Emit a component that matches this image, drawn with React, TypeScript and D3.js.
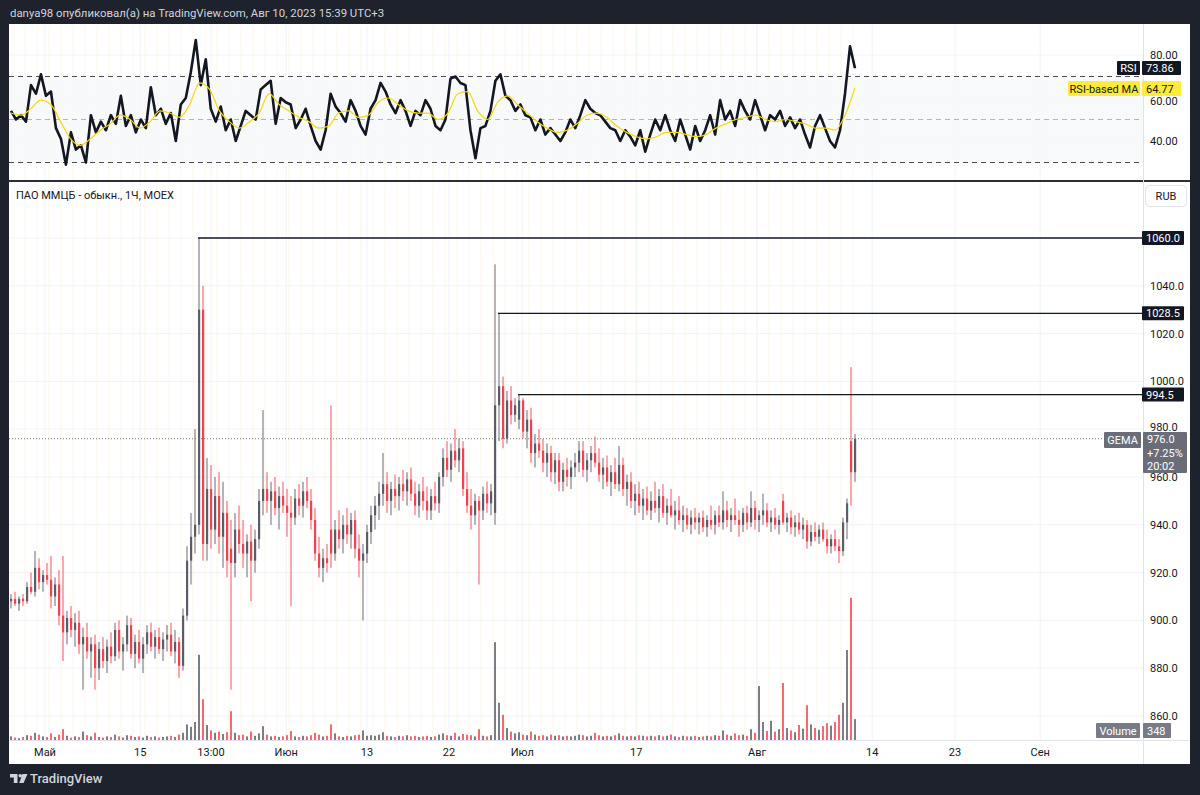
import { useEffect, useRef } from 'react';
import * as d3 from 'd3';

const W = 1200;
const H = 795;

// hourly-ish candles [open, high, low, close]
const candles = [
  [908, 911, 905, 909], [909, 912, 906, 907], [907, 910, 904, 909], [909, 911, 906, 908], [908, 916, 907, 914],
  [914, 920, 911, 912], [912, 929, 910, 922], [922, 926, 913, 916], [916, 921, 912, 919], [919, 924, 915, 917],
  [917, 927, 905, 910], [910, 918, 906, 915], [915, 921, 898, 902], [902, 927, 883, 895], [895, 904, 890, 901],
  [901, 906, 893, 896], [896, 903, 889, 899], [899, 904, 886, 890], [890, 897, 871, 893], [893, 899, 884, 887],
  [887, 893, 876, 890], [890, 894, 871, 880], [880, 891, 875, 888], [888, 893, 880, 883], [883, 892, 878, 889],
  [889, 895, 882, 885], [885, 899, 883, 896], [896, 900, 884, 887], [887, 893, 879, 890], [890, 902, 887, 898],
  [898, 901, 884, 886], [886, 894, 880, 891], [891, 896, 882, 884], [884, 893, 878, 890], [890, 898, 886, 895],
  [895, 899, 887, 889], [889, 896, 884, 893], [893, 897, 886, 888], [888, 895, 883, 892], [892, 898, 887, 894],
  [894, 899, 885, 887], [887, 896, 882, 891], [891, 893, 876, 881], [881, 905, 879, 902], [902, 931, 900, 925],
  [925, 945, 915, 935], [935, 980, 928, 940], [940, 1060, 936, 1030], [1030, 1040, 925, 932], [932, 968, 925, 955],
  [955, 965, 930, 938], [938, 960, 932, 952], [952, 962, 928, 935], [935, 958, 922, 945], [945, 950, 918, 925],
  [930, 942, 871, 924], [924, 945, 918, 938], [938, 948, 928, 932], [932, 942, 922, 928], [928, 936, 918, 933],
  [933, 940, 908, 925], [925, 938, 920, 934], [934, 955, 930, 950], [950, 988, 944, 955], [955, 962, 945, 950],
  [950, 958, 940, 954], [954, 960, 944, 947], [947, 956, 938, 952], [952, 958, 945, 948], [948, 955, 935, 945],
  [945, 952, 906, 943], [943, 955, 940, 951], [951, 957, 944, 948], [948, 958, 943, 954], [954, 960, 947, 950],
  [950, 955, 938, 942], [942, 947, 925, 928], [928, 935, 918, 922], [922, 930, 916, 926], [926, 932, 920, 924],
  [938, 990, 922, 928], [928, 942, 925, 938], [938, 946, 930, 934], [934, 944, 928, 940], [940, 947, 932, 936],
  [936, 945, 930, 942], [942, 946, 926, 930], [930, 936, 918, 925], [925, 932, 900, 928], [928, 940, 924, 937],
  [937, 948, 932, 944], [944, 952, 938, 948], [948, 958, 942, 953], [953, 970, 948, 957], [957, 962, 945, 950],
  [950, 958, 944, 955], [955, 961, 947, 952], [952, 960, 946, 957], [957, 963, 950, 954], [954, 962, 948, 959],
  [959, 964, 950, 953], [953, 958, 944, 948], [948, 957, 943, 954], [954, 960, 946, 950], [950, 956, 942, 946],
  [946, 955, 942, 952], [952, 958, 946, 949], [949, 962, 945, 960], [960, 972, 956, 968], [968, 975, 960, 963],
  [963, 974, 958, 971], [971, 980, 964, 967], [967, 976, 962, 972], [972, 975, 952, 955], [955, 962, 945, 948],
  [948, 955, 938, 944], [944, 953, 940, 950], [950, 952, 915, 946], [946, 956, 942, 953], [953, 958, 945, 949],
  [949, 957, 944, 954], [945, 1049, 940, 990], [990, 1028.5, 975, 998], [998, 1002, 972, 976], [976, 996, 974, 992],
  [992, 998, 982, 986], [986, 993, 983, 990], [984, 994.5, 980, 992], [992, 993, 976, 979], [979, 988, 972, 984],
  [984, 989, 966, 970], [970, 978, 964, 974], [974, 980, 968, 971], [971, 976, 962, 966], [966, 974, 960, 970],
  [970, 973, 958, 962], [962, 970, 957, 967], [967, 970, 954, 958], [958, 966, 954, 963], [963, 968, 956, 960],
  [960, 967, 955, 964], [964, 970, 960, 966], [966, 975, 962, 971], [971, 975, 960, 963], [963, 970, 958, 967],
  [967, 973, 962, 970], [970, 977, 964, 966], [966, 972, 958, 961], [961, 968, 955, 964], [964, 969, 956, 958],
  [958, 965, 952, 962], [962, 968, 955, 957], [957, 973, 954, 965], [965, 968, 952, 955], [955, 961, 948, 958],
  [958, 962, 947, 950], [950, 957, 944, 953], [953, 958, 945, 948], [948, 955, 942, 951], [951, 956, 944, 946],
  [946, 954, 942, 950], [950, 958, 945, 947], [947, 955, 941, 952], [952, 957, 943, 945], [945, 951, 940, 948],
  [948, 955, 943, 944], [944, 950, 938, 946], [946, 952, 940, 942], [942, 948, 937, 944], [944, 947, 938, 940],
  [940, 946, 936, 943], [943, 947, 938, 941], [941, 945, 936, 943], [943, 946, 937, 939], [939, 944, 935, 942],
  [942, 948, 938, 940], [940, 946, 936, 944], [944, 948, 939, 941], [941, 954, 938, 946], [946, 950, 939, 942],
  [942, 947, 937, 944], [944, 951, 940, 942], [942, 946, 935, 940], [940, 947, 937, 945], [945, 948, 938, 941],
  [941, 954, 939, 947], [947, 950, 938, 942], [942, 946, 937, 944], [944, 953, 940, 946], [946, 949, 939, 941],
  [941, 946, 937, 943], [943, 947, 938, 940], [940, 944, 936, 942], [950, 953, 940, 941], [941, 945, 937, 943],
  [943, 946, 936, 939], [939, 944, 935, 941], [941, 945, 936, 938], [938, 943, 934, 940], [940, 942, 930, 933],
  [933, 940, 931, 937], [937, 941, 933, 935], [935, 940, 932, 938], [938, 941, 933, 934], [934, 938, 928, 931],
  [931, 936, 928, 934], [934, 938, 929, 931], [931, 934, 924, 929], [929, 943, 927, 941], [941, 951, 934, 949],
  [975, 1006, 948, 962], [962, 978, 958, 976],
];

const volumes = [
  60, 40, 30, 50, 80, 70, 120, 90, 60, 50,
  110, 50, 90, 180, 70, 40, 60, 50, 140, 80,
  60, 120, 50, 40, 60, 50, 90, 60, 40, 80,
  70, 50, 60, 40, 70, 50, 60, 40, 50, 60,
  70, 50, 90, 120, 260, 220, 300, 1420, 680, 250,
  160, 120, 140, 100, 130, 480, 120, 80, 90, 60,
  140, 70, 110, 230, 90, 60, 70, 50, 60, 80,
  150, 60, 50, 70, 60, 80, 120, 90, 60, 70,
  260, 110, 60, 50, 70, 60, 80, 90, 160, 70,
  80, 70, 90, 130, 70, 60, 50, 70, 60, 80,
  60, 70, 50, 60, 70, 50, 60, 90, 110, 80,
  70, 120, 60, 100, 90, 80, 60, 180, 70, 60,
  80, 1630, 620, 420, 200, 140, 110, 130, 90, 80,
  140, 90, 70, 80, 60, 90, 70, 80, 60, 70,
  60, 70, 90, 80, 60, 70, 120, 80, 60, 70,
  60, 80, 110, 70, 60, 70, 60, 80, 70, 60,
  70, 60, 80, 60, 70, 90, 60, 50, 70, 60,
  60, 70, 50, 60, 70, 60, 80, 70, 160, 90,
  70, 110, 80, 90, 70, 180, 120, 900, 300, 150,
  320, 140, 180, 950, 200, 160, 130, 250, 190, 580,
  260, 200, 170, 230, 280, 240, 300, 420, 620, 1500,
  2370, 348,
];

const rsiValues = [
  54, 50, 52, 49, 66, 62, 71, 61, 63, 46,
  41, 29, 44, 36, 38, 30, 52, 44, 49, 45,
  52, 48, 61, 47, 52, 44, 50, 46, 65, 52,
  55, 48, 53, 40, 57, 60, 72, 87, 66, 78,
  55, 49, 56, 45, 50, 40, 47, 54, 52, 50,
  64, 66, 68, 48, 60, 58, 57, 46, 50, 55,
  47, 40, 36, 45, 62, 56, 53, 49, 59, 54,
  47, 43, 55, 59, 67, 63, 57, 53, 59, 54,
  47, 54, 52, 59, 55, 47, 45, 50, 69, 70,
  67, 66, 45, 32, 46, 47, 54, 68, 71, 61,
  59, 54, 57, 52, 51, 45, 50, 43, 46, 43,
  40, 44, 50, 46, 52, 59, 55, 53, 52, 49,
  46, 45, 40, 45, 42, 38, 45, 35, 43, 50,
  45, 52, 45, 40, 50, 43, 36, 47, 40, 45,
  52, 43, 59, 50, 54, 47, 59, 54, 50, 59,
  52, 45, 52, 50, 54, 47, 51, 46, 50, 43,
  37, 47, 52, 46, 40, 37, 45, 62, 84, 73.86,
];

const rsiMaValues = [
  53, 52, 55, 59, 57, 49, 41, 38, 41, 45,
  48, 52, 50, 46, 49, 54, 53, 51, 57, 67,
  64, 54, 49, 46, 49, 53, 62, 57, 54, 51,
  49, 46, 47, 53, 54, 51, 52, 58, 60, 57,
  54, 53, 53, 50, 53, 62, 63, 54, 50, 58,
  61, 57, 53, 49, 46, 44, 45, 48, 52, 53,
  51, 47, 44, 42, 41, 42, 44, 44, 43, 42,
  43, 46, 48, 50, 51, 52, 50, 49, 50, 49,
  48, 46, 46, 45, 52, 64.77,
];

const priceTicks = [860, 880, 900, 920, 940, 960, 980, 1000, 1020, 1040, 1060];
const rsiTicks = [40, 60, 80];
const timeTicks = [
  { i: 8.5, label: 'Май' }, { i: 32.3, label: '15' }, { i: 50, label: '13:00' },
  { i: 68.8, label: 'Июн' }, { i: 89, label: '13' }, { i: 109.5, label: '22' },
  { i: 127.8, label: 'Июл' }, { i: 156.3, label: '17' }, { i: 186.5, label: 'Авг' },
  { i: 215.3, label: '14' }, { i: 236, label: '23' }, { i: 257.3, label: 'Сен' },
];
const levelLines = [
  { price: 1060, from: 47, label: '1060.0' },
  { price: 1028.5, from: 122, label: '1028.5' },
  { price: 994.5, from: 127, label: '994.5' },
];
const lastPrice = 976.0;
const lastChange = '+7.25%';
const countdown = '20:02';
const lastVolume = 348;

const FONT = 'Roboto, "Noto Sans", sans-serif';
const UP = '#50535e';
const DOWN = '#f23645';

const App = () => {
  const svgRef = useRef(null);

  useEffect(() => {
    const svg = d3.select(svgRef.current);
    svg.selectAll('*').remove();

    const left = 9, right = 1143, outerRight = 1190;
    const rsiTop = 25, rsiBottom = 180, priceTop = 183, priceBottom = 740, axisBottom = 764;

    const x = d3.scaleLinear().domain([0, candles.length - 1]).range([11, 855]);
    const yP = d3.scaleLinear().domain([860, 1060]).range([716, 238]);
    const yR = d3.scaleLinear().domain([40, 80]).range([141, 55]);
    const yV = d3.scaleLinear().domain([0, 2500]).range([priceBottom, 590]);
    const xR = d3.scaleLinear().domain([0, rsiValues.length - 1]).range(x.range());
    const xM = d3.scaleLinear().domain([0, rsiMaValues.length - 1]).range(x.range());

    // frame
    svg.append('rect').attr('width', W).attr('height', H).attr('fill', '#1e222d');
    svg.append('text').attr('x', 10).attr('y', 17).attr('fill', '#d1d4dc')
      .style('font', `11.4px ${FONT}`)
      .text('danya98 опубликовал(а) на TradingView.com, Авг 10, 2023 15:39 UTC+3');
    svg.append('rect').attr('x', left).attr('y', 24).attr('width', outerRight - left)
      .attr('height', axisBottom - 24).attr('fill', '#ffffff');

    const defs = svg.append('defs');
    defs.append('clipPath').attr('id', 'rsiClip').append('rect')
      .attr('x', left).attr('y', rsiTop).attr('width', right - left).attr('height', rsiBottom - rsiTop);
    defs.append('clipPath').attr('id', 'priceClip').append('rect')
      .attr('x', left).attr('y', priceTop).attr('width', right - left).attr('height', priceBottom - priceTop);

    // session stripes
    const stripes = svg.append('g');
    d3.range(1, candles.length, 3).forEach(i => {
      stripes.append('line')
        .attr('x1', x(i) - 2).attr('x2', x(i) - 2)
        .attr('y1', rsiTop).attr('y2', priceBottom)
        .attr('stroke', '#fff6ec').attr('stroke-width', 1.2);
    });
    stripes.append('rect').attr('x', left).attr('y', rsiBottom).attr('width', outerRight - left)
      .attr('height', 3).attr('fill', '#ffffff');

    // grid
    const grid = svg.append('g').attr('stroke', '#f0f3fa').attr('stroke-width', 1);
    timeTicks.forEach(t => {
      grid.append('line').attr('x1', x(t.i)).attr('x2', x(t.i)).attr('y1', rsiTop).attr('y2', priceBottom);
    });
    priceTicks.forEach(p => {
      grid.append('line').attr('x1', left).attr('x2', right).attr('y1', yP(p)).attr('y2', yP(p));
    });
    rsiTicks.forEach(v => {
      grid.append('line').attr('x1', left).attr('x2', right).attr('y1', yR(v)).attr('y2', yR(v));
    });

    // RSI pane
    const rsiG = svg.append('g').attr('clip-path', 'url(#rsiClip)');
    rsiG.append('rect').attr('x', left).attr('width', right - left)
      .attr('y', yR(70)).attr('height', yR(30) - yR(70)).attr('fill', '#f6f7f9').attr('opacity', 0.8);
    [70, 30].forEach(v => {
      rsiG.append('line').attr('x1', left).attr('x2', right).attr('y1', yR(v)).attr('y2', yR(v))
        .attr('stroke', '#4a4d57').attr('stroke-dasharray', '5,4').attr('stroke-width', 1);
    });
    rsiG.append('line').attr('x1', left).attr('x2', right).attr('y1', yR(50)).attr('y2', yR(50))
      .attr('stroke', '#b2b5be').attr('stroke-dasharray', '5,4').attr('stroke-width', 1);

    const rsiLine = d3.line<number>().x((d, i) => xR(i)).y(d => yR(d));
    const maLine = d3.line<number>().x((d, i) => xM(i)).y(d => yR(d)).curve(d3.curveMonotoneX);
    rsiG.append('path').datum(rsiValues).attr('d', rsiLine)
      .attr('fill', 'none').attr('stroke', '#131722').attr('stroke-width', 2.6).attr('stroke-linejoin', 'round');
    rsiG.append('path').datum(rsiMaValues).attr('d', maLine)
      .attr('fill', 'none').attr('stroke', '#f5d90a').attr('stroke-width', 1.2);

    // separator between panes
    svg.append('rect').attr('x', left).attr('y', rsiBottom).attr('width', outerRight - left)
      .attr('height', 2).attr('fill', '#2a2e39');

    // price pane
    const priceG = svg.append('g').attr('clip-path', 'url(#priceClip)');

    priceG.append('g').selectAll('rect').data(volumes).enter().append('rect')
      .attr('x', (d, i) => x(i) - 1)
      .attr('width', 2)
      .attr('y', d => yV(d))
      .attr('height', d => priceBottom - yV(d))
      .attr('fill', (d, i) => (candles[i][3] >= candles[i][0] ? UP : DOWN))
      .attr('opacity', 0.75);

    const candleG = priceG.append('g');
    candles.forEach((c, i) => {
      const [o, h, l, cl] = c;
      const col = cl >= o ? UP : DOWN;
      candleG.append('line')
        .attr('x1', x(i)).attr('x2', x(i)).attr('y1', yP(h)).attr('y2', yP(l))
        .attr('stroke', col).attr('stroke-width', 1).attr('opacity', 0.85);
      const top = yP(Math.max(o, cl));
      const bh = Math.max(1, Math.abs(yP(o) - yP(cl)));
      candleG.append('rect')
        .attr('x', x(i) - 1).attr('width', 2.2).attr('y', top).attr('height', bh)
        .attr('fill', col).attr('opacity', 0.9);
    });

    levelLines.forEach(lv => {
      priceG.append('line')
        .attr('x1', x(lv.from) - 1).attr('x2', right)
        .attr('y1', yP(lv.price)).attr('y2', yP(lv.price))
        .attr('stroke', '#131722').attr('stroke-width', 1.3);
    });

    priceG.append('line').attr('x1', left).attr('x2', 1104)
      .attr('y1', yP(lastPrice)).attr('y2', yP(lastPrice))
      .attr('stroke', '#787b86').attr('stroke-dasharray', '1,2');

    svg.append('text').attr('x', 16).attr('y', 199).attr('fill', '#131722')
      .style('font', `11px ${FONT}`).text('ПАО ММЦБ - обыкн., 1Ч, MOEX');

    // axes borders
    svg.append('line').attr('x1', right + 0.5).attr('x2', right + 0.5).attr('y1', 24).attr('y2', axisBottom)
      .attr('stroke', '#e0e3eb');
    svg.append('line').attr('x1', left).attr('x2', outerRight).attr('y1', priceBottom + 0.5).attr('y2', priceBottom + 0.5)
      .attr('stroke', '#e0e3eb');

    // time axis
    const timeG = svg.append('g').style('font', `11px ${FONT}`).attr('fill', '#131722');
    timeTicks.forEach(t => {
      timeG.append('text').attr('x', x(t.i)).attr('y', 756).attr('text-anchor', 'middle').text(t.label);
    });

    // price axis (labels hidden where a level marker sits, nudged clear of the last-price box)
    const axisG = svg.append('g').style('font', `11px ${FONT}`).attr('fill', '#131722');
    priceTicks
      .filter(p => !levelLines.some(lv => Math.abs(yP(lv.price) - yP(p)) < 8))
      .forEach(p => {
        const nearLast = Math.abs(yP(p) - yP(lastPrice)) < 12;
        axisG.append('text').attr('x', 1150).attr('y', yP(p) + (nearLast ? 1.5 : 4)).text(d3.format('.1f')(p));
      });
    rsiTicks.forEach(v => {
      const nearMa = Math.abs(yR(v) - 88) < 12;
      axisG.append('text').attr('x', 1150).attr('y', yR(v) + (nearMa ? 6.5 : 4)).text(d3.format('.2f')(v));
    });

    const box = (bx, by, bw, bh, fill, label, color, anchor = 'start', tx = bx + 4) => {
      svg.append('rect').attr('x', bx).attr('y', by).attr('width', bw).attr('height', bh)
        .attr('fill', fill).attr('rx', 1);
      svg.append('text').attr('x', tx).attr('y', by + bh / 2 + 4).attr('text-anchor', anchor)
        .attr('fill', color).style('font', `11px ${FONT}`).text(label);
    };

    levelLines.forEach(lv => {
      box(1142, yP(lv.price) - 7, 42, 14, '#131722', lv.label, '#ffffff', 'start', 1146);
    });

    // RSI labels
    box(1117, 61, 23, 14, '#131722', 'RSI', '#ffffff', 'middle', 1128.5);
    box(1142, 61, 39, 14, '#131722', d3.format('.2f')(rsiValues[rsiValues.length - 1]), '#ffffff', 'start', 1146);
    box(1068, 81, 72, 15, '#ffeb3b', 'RSI-based MA', '#131722', 'middle', 1104);
    box(1142, 81, 39, 15, '#ffeb3b', d3.format('.2f')(rsiMaValues[rsiMaValues.length - 1]), '#131722', 'start', 1146);

    // last price
    box(1104, 432, 37, 16, '#6a6d78', 'GEMA', '#ffffff', 'middle', 1122.5);
    svg.append('rect').attr('x', 1143).attr('y', 432).attr('width', 44).attr('height', 41)
      .attr('fill', '#6a6d78').attr('rx', 1);
    [d3.format('.1f')(lastPrice), lastChange, countdown].forEach((t, k) => {
      svg.append('text').attr('x', 1147).attr('y', 443 + k * 13.5).attr('fill', '#ffffff')
        .style('font', `11px ${FONT}`).text(t);
    });

    // volume label
    box(1096, 723, 44, 15, '#787b86', 'Volume', '#ffffff', 'middle', 1118);
    box(1143, 723, 28, 15, '#787b86', String(lastVolume), '#ffffff', 'start', 1147);

    // RUB button
    svg.append('rect').attr('x', 1145.5).attr('y', 185.5).attr('width', 41).attr('height', 21)
      .attr('fill', '#ffffff').attr('stroke', '#e0e3eb').attr('rx', 4);
    svg.append('text').attr('x', 1166).attr('y', 200).attr('text-anchor', 'middle')
      .attr('fill', '#131722').style('font', `11px ${FONT}`).text('RUB');

    // footer logo
    const logo = svg.append('g').attr('fill', '#d1d4dc');
    logo.append('path').attr('d', 'M10,774 H17.5 V783 H13.8 V777.4 H10 Z');
    logo.append('circle').attr('cx', 20.3).attr('cy', 775.8).attr('r', 1.8);
    logo.append('path').attr('d', 'M22.5,774 H27.5 L23.6,783 H19.2 Z');
    svg.append('text').attr('x', 30).attr('y', 783).attr('fill', '#d1d4dc')
      .style('font', `500 13px ${FONT}`).text('TradingView');
  }, []);

  return (
    <svg ref={svgRef} width={W} height={H} style={{ position: 'absolute', left: 0, top: 0 }} />
  );
};

export default App;
